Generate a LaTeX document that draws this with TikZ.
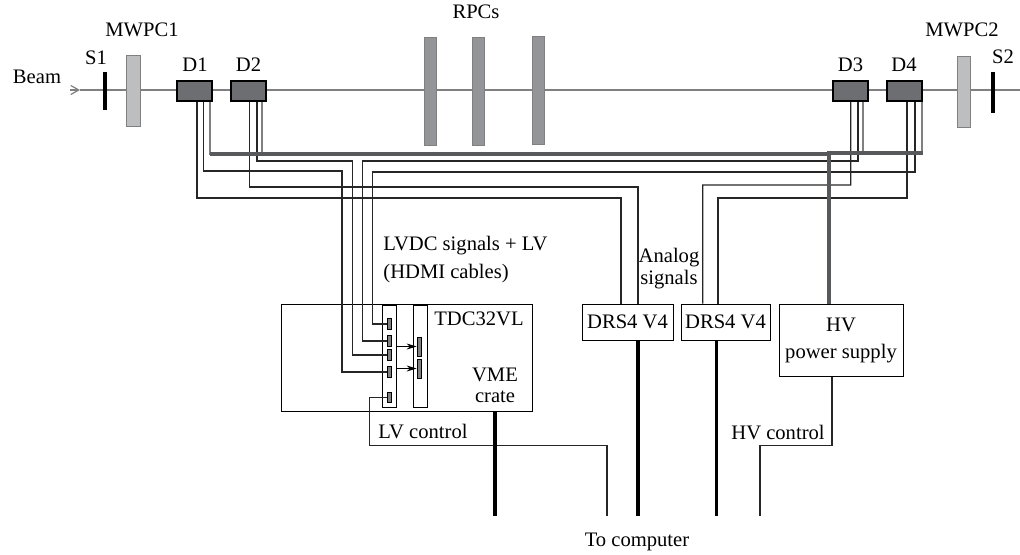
\documentclass[tikz,border=0pt]{standalone}
\usepackage{fontspec}
\setmainfont{Liberation Serif}
\usetikzlibrary{positioning}
\usetikzlibrary{arrows.meta}
\tikzset{>=stealth}
\definecolor{detdark}{HTML}{6D6E71}
\definecolor{mwpcgray}{HTML}{BCBEC0}
\definecolor{rpcgray}{HTML}{939598}
\definecolor{hvgray}{HTML}{58595B}
\begin{document}
\begin{tikzpicture}[x=0.5pt, y=-0.5pt, font=\fontsize{10.3}{12}\selectfont,
	label/.style={inner sep=0pt, align=center},
	box/.style={draw, fill=white, line width=0.5pt, inner sep=0pt, align=center},
	det/.style={draw=black, fill=detdark, line width=0.7pt, minimum width=17.5pt, minimum height=10pt, inner sep=0pt},
	mwpc/.style={draw=gray, fill=mwpcgray, line width=0.5pt, minimum width=6.7pt, minimum height=35.5pt, inner sep=0pt},
	rpc/.style={draw=gray, fill=rpcgray, line width=0.5pt, minimum width=6pt, minimum height=54pt, inner sep=0pt},
	scint/.style={fill=black, minimum width=1.7pt, inner sep=0pt},
	panel/.style={draw, fill=white, line width=0.5pt, minimum width=7pt, minimum height=51pt, inner sep=0pt},
	slot/.style={draw=black, fill=gray, line width=0.4pt, minimum width=2pt, minimum height=5.2pt, inner sep=0pt},
	wire/.style={draw, black!85, line width=0.6pt},
	graywire/.style={draw, gray, line width=0.6pt},
	hvline/.style={draw, hvgray, line width=2.1pt},
	pcline/.style={draw, black, line width=1.6pt}]
	\useasboundingbox (0,0) rectangle (1020,554);
	%% Beam line
	\coordinate (BeamIn) at (70,90);
	\coordinate (BeamTip) at (80,90);
	\coordinate (BeamOut) at (1020,90);
	\draw [gray, line width=0.6pt, -{Straight Barb[length=4pt,width=4.5pt]}] (BeamIn) -- (BeamTip);
	\draw [gray, line width=0.6pt] (BeamTip) -- (BeamOut);
	%% Detectors
	\node [scint, minimum height=19pt] (S1) at (105,91) {};
	\node [scint, minimum height=20.5pt] (S2) at (993,92.5) {};
	\node [mwpc] (MWPC1) at (133.5,91) {};
	\node [mwpc] (MWPC2) at (964,91.5) {};
	\node [det] (D1) at (194.5,91) {};
	\node [det] (D2) at (248.5,91) {};
	\node [det] (D3) at (850.5,91) {};
	\node [det] (D4) at (904.5,91) {};
	\node [rpc] (RPC1) at (430,91) {};
	\node [rpc] (RPC2) at (478,91.5) {};
	\node [rpc] (RPC3) at (538,90.5) {};
	%% Labels on top
	\node [label] (Beam) at (37,77) {Beam};
	\node [label] (S1text) at (96,58) {S1};
	\node [label] (S2text) at (1003,57) {S2};
	\node [label] (MWPC1text) at (142,30) {MWPC1};
	\node [label] (MWPC2text) at (962,30) {MWPC2};
	\node [label] (RPCtext) at (476,12) {RPCs};
	\node [label, above=4pt of D1, xshift=0.25pt] (D1text) {D1};
	\node [label, above=4pt of D2] (D2text) {D2};
	\node [label, above=4pt of D3] (D3text) {D3};
	\node [label, above=4pt of D4, xshift=-0.25pt] (D4text) {D4};
	%% Electronics
	\node [box, minimum width=125.5pt, minimum height=53.5pt] (VME) at (406.5,357.5) {};
	\node [panel] (PanelL) at (389,356) {};
	\node [panel] (PanelR) at (420,356) {};
	\node [slot] (SlotA) at (389,324) {};
	\node [slot] (SlotB) at (389,341) {};
	\node [slot] (SlotC) at (389,355) {};
	\node [slot] (SlotD) at (389,372) {};
	\node [slot] (SlotE) at (389,397.5) {};
	\node [slot, minimum height=9.5pt] (SlotF) at (419,346.5) {};
	\node [slot, minimum height=9.5pt] (SlotG) at (419,368.5) {};
	\node [box, minimum width=45.5pt, minimum height=18pt] (DRS1) at (627.5,322) {DRS4 V4};
	\node [box, minimum width=44.5pt, minimum height=18pt] (DRS2) at (725.5,322) {DRS4 V4};
	\node [box, minimum width=62pt, minimum height=36pt] (HV) at (841,340) {HV\\[1.5pt]power supply};
	\node [label] (TDCtext) at (479,319) {TDC32VL};
	\node [label] (VMEtext) at (495,385) {VME\\[-1.5pt]crate};
	\node [label, anchor=west] (LVDCtext) at (383,246) {LVDC signals + LV};
	\node [label, anchor=west] (HDMItext) at (383,274) {(HDMI cables)};
	\node [label] (Analogtext) at (669,268.5) {Analog\\[-1pt]signals};
	\node [label] (LVtext) at (423,431) {LV control};
	\node [label] (HVtext) at (778,432) {HV control};
	\node [label] (PCtext) at (637,542) {To computer};
	\coordinate (PCa) at (495,516);
	\coordinate (PCb) at (607,516);
	\coordinate (PCc) at (638,516);
	\coordinate (PCd) at (716.5,516);
	\coordinate (PCe) at (760,516);
	%% LVDC signals
	\path [wire] ([xshift=4.5pt]D1.south) |- (342,171) |- (SlotD.west);
	\path [wire] ([xshift=4.25pt]D2.south) |- (352.7,161) |- (SlotC.west);
	\path [wire] ([xshift=3.75pt]D3.south) |- (362.7,161) |- (SlotB.west);
	\path [wire] ([xshift=5.25pt]D4.south) |- (372.7,172) |- (SlotA.west);
	%% Analog signals
	\path [wire] ([xshift=1.25pt]D1.south) |- (621,198) -- ([xshift=-3.25pt]DRS1.north);
	\path [wire] ([xshift=0.4pt]D2.south) |- (638,187) -- ([xshift=5.25pt]DRS1.north);
	\path [wire] ([xshift=0.1pt]D3.south) |- (702.7,185) -- ([xshift=-11.4pt]DRS2.north);
	\path [wire] ([xshift=1.25pt]D4.south) |- (718,198) -- ([xshift=-3.75pt]DRS2.north);
	%% High voltage
	\path [graywire] ([xshift=7.75pt]D1.south) -- ++(0,53);
	\path [graywire] ([xshift=6.75pt]D2.south) -- ++(0,53);
	\path [graywire] ([xshift=6.25pt]D3.south) -- ++(0,52);
	\path [graywire] ([xshift=8.75pt]D4.south) -- ++(0,52);
	\path [hvline] (210,154) -- (829.3,154);
	\path [hvline] (922.5,153) -- (829.3,153) -- ([xshift=-5.85pt]HV.north);
	%% Inside the crate
	\draw [line width=0.6pt, -{Stealth[length=5pt,width=3pt]}] (PanelL.east |- SlotF) -- (SlotF.west);
	\draw [line width=0.6pt, -{Stealth[length=5pt,width=3pt]}] (PanelL.east |- SlotG) -- (SlotG.west);
	%% Control and computer lines
	\path [wire] (SlotE.west) -| (369.7,445.7) -| (PCb);
	\path [wire] ([xshift=-4.5pt]HV.south) |- (760,445.7) -- (PCe);
	\path [pcline] (VME.south -| PCa) -- (PCa);
	\path [pcline] (DRS1.south -| PCc) -- (PCc);
	\path [pcline] (DRS2.south -| PCd) -- (PCd);
\end{tikzpicture}
\end{document}
